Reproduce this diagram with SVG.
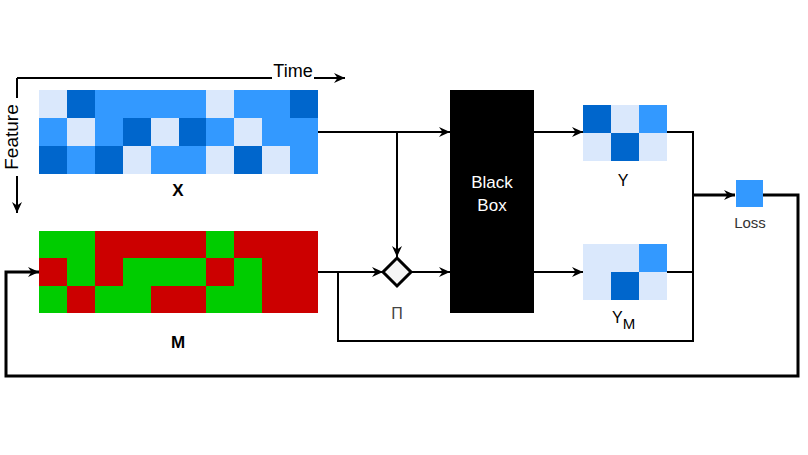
<svg xmlns="http://www.w3.org/2000/svg" width="808" height="455" viewBox="0 0 808 455">
<defs>
<style>
.l{fill:#dae8fc}.m{fill:#3399ff}.d{fill:#0066cc}.g{fill:#00cc00}.r{fill:#cc0000}
.c{fill:none;stroke:#000;stroke-width:2}
.t{stroke-width:3}
.lab{font-family:"Liberation Sans",Arial,sans-serif;fill:#000}
</style>
<marker id="a" markerUnits="userSpaceOnUse" markerWidth="12" markerHeight="11" refX="11" refY="5.5" orient="auto" viewBox="0 0 12 11">
<path d="M0,0.5 L11,5.5 L0,10.5 L3.5,5.5 Z" fill="#000"/>
</marker>
</defs>
<rect width="808" height="455" fill="#fff"/>

<g id="connectors">
<path class="c" d="M17,78 H345" marker-end="url(#a)"/>
<path class="c" d="M17,78 V213" marker-end="url(#a)"/>
<path class="c" d="M318,132 H450" marker-end="url(#a)"/>
<path class="c" d="M397,132 V257" marker-end="url(#a)"/>
<path class="c" d="M318,272 H383" marker-end="url(#a)"/>
<path class="c" d="M412,272 H450" marker-end="url(#a)"/>
<path class="c" d="M534,132 H583" marker-end="url(#a)"/>
<path class="c" d="M534,272 H583" marker-end="url(#a)"/>
<path class="c" d="M667,132 H693 V195"/>
<path class="c" d="M667,272 H693 V195"/>
<path class="c" d="M338,272 V341 H693 V272"/>
<path class="c t" d="M693,195 H735" marker-end="url(#a)"/>
<path class="c t" d="M763,195 H798 V376 H6 V272 H39" marker-end="url(#a)"/>
</g>

<g id="axis-labels">
<rect x="272" y="62" width="42" height="18" fill="#fff"/>
<text class="lab" x="293" y="77" font-size="18" text-anchor="middle">Time</text>
<rect x="3" y="98" width="19" height="78" fill="#fff"/>
<text class="lab" transform="translate(18,137) rotate(-90)" font-size="19" text-anchor="middle">Feature</text>
</g>

<g id="X">
<rect class="l" x="39" y="90" width="28" height="28"/>
<rect class="d" x="67" y="90" width="28" height="28"/>
<rect class="m" x="95" y="90" width="112" height="28"/>
<rect class="l" x="206" y="90" width="28" height="28"/>
<rect class="m" x="234" y="90" width="56" height="28"/>
<rect class="d" x="290" y="90" width="28" height="28"/>
<rect class="m" x="39" y="118" width="28" height="28"/>
<rect class="l" x="67" y="118" width="28" height="28"/>
<rect class="m" x="95" y="118" width="28" height="28"/>
<rect class="d" x="123" y="118" width="28" height="28"/>
<rect class="l" x="151" y="118" width="28" height="28"/>
<rect class="d" x="179" y="118" width="28" height="28"/>
<rect class="m" x="206" y="118" width="28" height="28"/>
<rect class="l" x="234" y="118" width="28" height="28"/>
<rect class="m" x="262" y="118" width="56" height="28"/>
<rect class="d" x="39" y="146" width="28" height="28"/>
<rect class="m" x="67" y="146" width="28" height="28"/>
<rect class="d" x="95" y="146" width="28" height="28"/>
<rect class="l" x="123" y="146" width="28" height="28"/>
<rect class="m" x="151" y="146" width="56" height="28"/>
<rect class="l" x="206" y="146" width="28" height="28"/>
<rect class="d" x="234" y="146" width="28" height="28"/>
<rect class="l" x="262" y="146" width="28" height="28"/>
<rect class="m" x="290" y="146" width="28" height="28"/>
<text class="lab" x="178" y="196" font-size="17" font-weight="bold" text-anchor="middle">X</text>
</g>

<g id="M">
<rect class="g" x="39" y="231" width="56" height="27.5"/>
<rect class="r" x="95" y="231" width="112" height="27.5"/>
<rect class="g" x="206" y="231" width="28" height="27.5"/>
<rect class="r" x="234" y="231" width="84" height="27.5"/>
<rect class="r" x="39" y="258" width="28" height="28"/>
<rect class="g" x="67" y="258" width="28" height="28"/>
<rect class="r" x="95" y="258" width="28" height="28"/>
<rect class="g" x="123" y="258" width="84" height="28"/>
<rect class="r" x="206" y="258" width="28" height="28"/>
<rect class="g" x="234" y="258" width="28" height="28"/>
<rect class="r" x="262" y="258" width="56" height="28"/>
<rect class="g" x="39" y="286" width="28" height="27"/>
<rect class="r" x="67" y="286" width="28" height="27"/>
<rect class="g" x="95" y="286" width="56" height="27"/>
<rect class="r" x="151" y="286" width="56" height="27"/>
<rect class="g" x="206" y="286" width="56" height="27"/>
<rect class="r" x="262" y="286" width="56" height="27"/>
<text class="lab" x="178" y="348" font-size="17" font-weight="bold" text-anchor="middle">M</text>
</g>

<g id="product">
<polygon points="397,258 411,272 397,286 383,272" fill="#f5f5f5" stroke="#000" stroke-width="3"/>
<text class="lab" x="397" y="319" font-size="16" text-anchor="middle" style="fill:#444">Π</text>
</g>

<g id="blackbox">
<rect x="450" y="90" width="84" height="223" fill="#000"/>
<text class="lab" x="492" y="188" font-size="17" text-anchor="middle" style="fill:#fff">Black</text>
<text class="lab" x="492" y="211" font-size="17" text-anchor="middle" style="fill:#fff">Box</text>
</g>

<g id="Y">
<rect class="d" x="583" y="105" width="28" height="28"/>
<rect class="l" x="611" y="105" width="28" height="28"/>
<rect class="m" x="639" y="105" width="28" height="28"/>
<rect class="l" x="583" y="133" width="28" height="28"/>
<rect class="d" x="611" y="133" width="28" height="28"/>
<rect class="l" x="639" y="133" width="28" height="28"/>
<text class="lab" x="623" y="186" font-size="16" text-anchor="middle">Y</text>
</g>

<g id="YM">
<rect class="l" x="583" y="244" width="56" height="28"/>
<rect class="m" x="639" y="244" width="28" height="28"/>
<rect class="l" x="583" y="272" width="28" height="28"/>
<rect class="d" x="611" y="272" width="28" height="28"/>
<rect class="l" x="639" y="272" width="28" height="28"/>
<text class="lab" x="612" y="323" font-size="16">Y<tspan font-size="15" dy="6">M</tspan></text>
</g>

<g id="Loss">
<rect class="m" x="736" y="180" width="27" height="27"/>
<text class="lab" x="750" y="228" font-size="15" text-anchor="middle" style="fill:#333">Loss</text>
</g>
</svg>
